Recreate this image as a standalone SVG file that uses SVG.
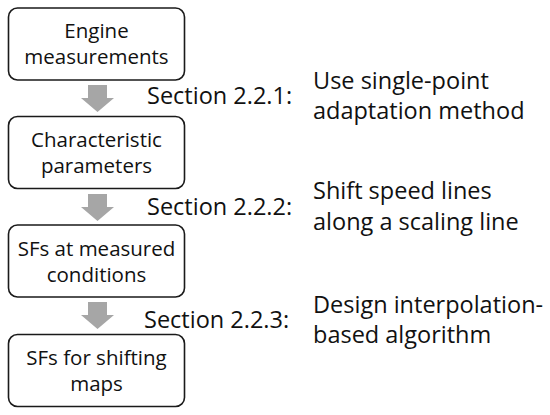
<svg xmlns="http://www.w3.org/2000/svg" width="550" height="415" viewBox="0 0 550 415">
<style>
.box{fill:#ffffff;stroke:#1a1a1a;stroke-width:1.6}
.bt{font-family:"Open Sans","Noto Sans",sans-serif;font-size:20.5px;fill:#111;text-anchor:middle}
.st{font-family:"Open Sans","Noto Sans",sans-serif;font-size:23.5px;fill:#111}
.arr{fill:#a6a6a6}
</style>
<rect width="550" height="415" fill="#ffffff"/>
<g id="connectors">
<polygon class="arr" points="88,85 107,85 107,98 114,98 97.5,112 81,98 88,98"/>
<polygon class="arr" points="88,194 107,194 107,207 114,207 97.5,221 81,207 88,207"/>
<polygon class="arr" points="88,302 107,302 107,315 114,315 97.5,329 81,315 88,315"/>
</g>
<g id="node1">
<rect class="box" x="8.5" y="8" width="176" height="72" rx="9"/>
<text class="bt" x="96.5" y="38">Engine</text>
<text class="bt" x="96.5" y="64">measurements</text>
</g>
<g id="node2">
<rect class="box" x="8.5" y="116.5" width="176" height="72" rx="9"/>
<text class="bt" x="96.5" y="146.5">Characteristic</text>
<text class="bt" x="96.5" y="172.5">parameters</text>
</g>
<g id="node3">
<rect class="box" x="8.5" y="225" width="176" height="72" rx="9"/>
<text class="bt" x="96.5" y="255.5">SFs at measured</text>
<text class="bt" x="96.5" y="281.5">conditions</text>
</g>
<g id="node4">
<rect class="box" x="8.5" y="334.5" width="176" height="72" rx="9"/>
<text class="bt" x="96.5" y="364.5">SFs for shifting</text>
<text class="bt" x="96.5" y="390.5">maps</text>
</g>
<g id="labels">
<text class="st" x="147" y="104">Section 2.2.1:</text>
<text class="st" x="313" y="89">Use single-point</text>
<text class="st" x="313" y="119">adaptation method</text>
<text class="st" x="147" y="215">Section 2.2.2:</text>
<text class="st" x="313" y="199">Shift speed lines</text>
<text class="st" x="313" y="230">along a scaling line</text>
<text class="st" x="144" y="328">Section 2.2.3:</text>
<text class="st" x="313" y="313">Design interpolation-</text>
<text class="st" x="313" y="343">based algorithm</text>
</g>
</svg>
